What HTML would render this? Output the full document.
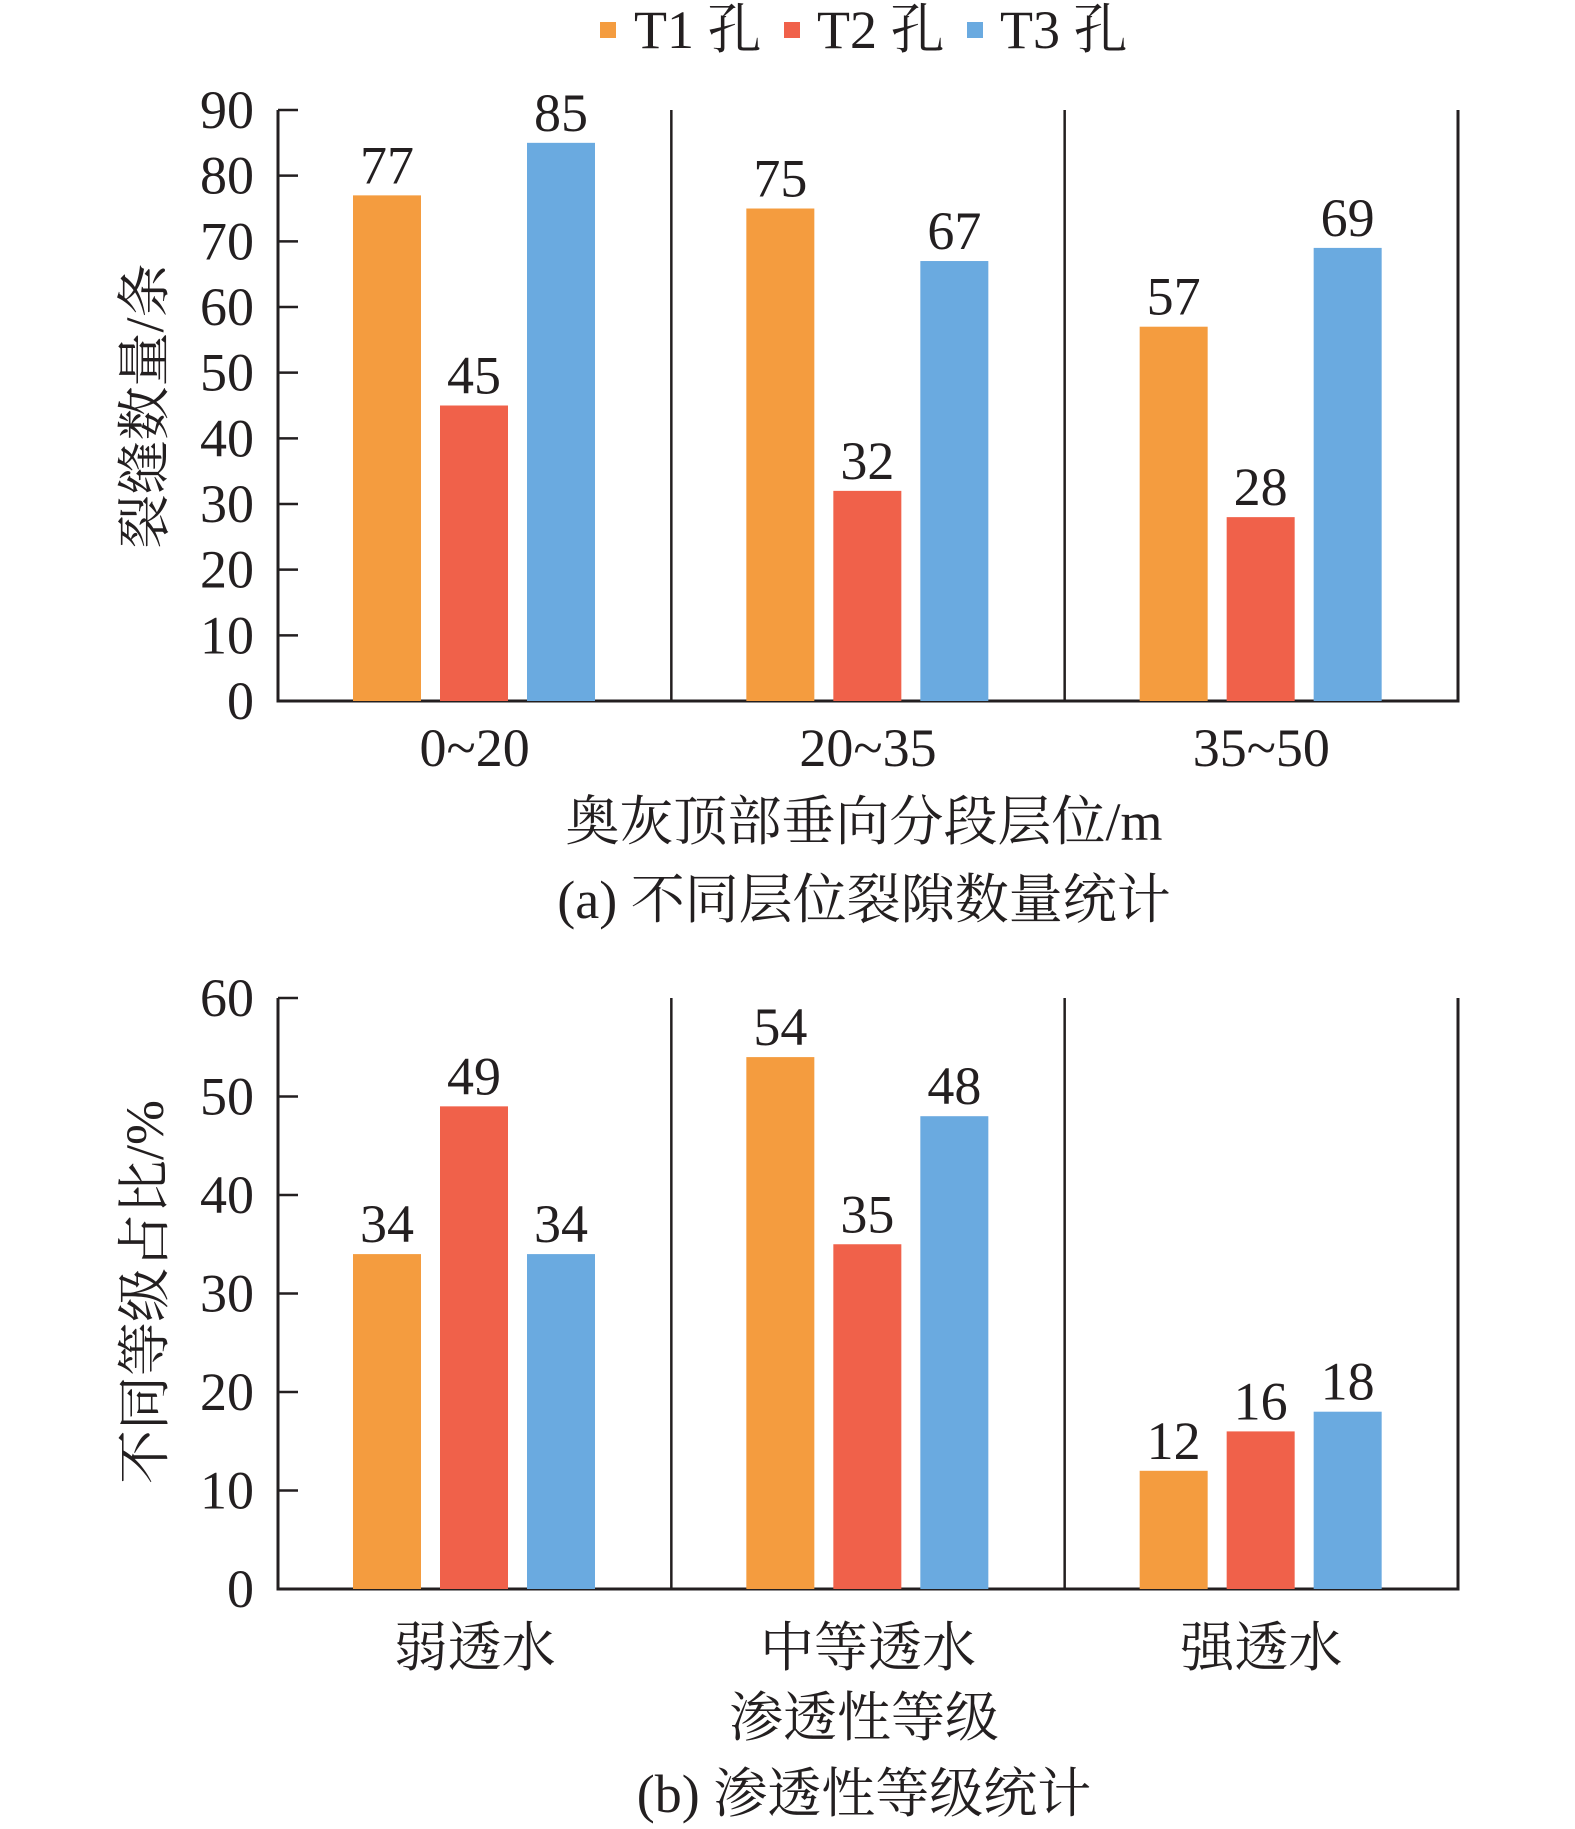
<!DOCTYPE html>
<html><head><meta charset="utf-8">
<style>
html,body{margin:0;padding:0;background:#fff;}
svg{display:block;}
text{font-family:"Liberation Serif","Noto Serif CJK SC",serif;fill:#231f20;}
</style></head>
<body>
<svg id="chart" width="1575" height="1829" viewBox="0 0 1575 1829" xmlns="http://www.w3.org/2000/svg">
<g>
  <rect x="600" y="22" width="16" height="16" fill="#f49c3f"/>
  <text x="634" y="30" font-size="54" dominant-baseline="central">T1 孔</text>
  <rect x="784" y="22" width="16" height="16" fill="#f0614a"/>
  <text x="817" y="30" font-size="54" dominant-baseline="central">T2 孔</text>
  <rect x="967" y="22" width="16" height="16" fill="#6aaae0"/>
  <text x="1000" y="30" font-size="54" dominant-baseline="central">T3 孔</text>
</g>
<g id="p1"></g>
<g id="p2"></g>
</svg>
<script>
const catsA = ["0~20","20~35","35~50"];
const t1A = [77,75,57];
const t2A = [45,32,28];
const t3A = [85,67,69];
const ticksA = [0,10,20,30,40,50,60,70,80,90];

const catsB = ["弱透水","中等透水","强透水"];
const t1B = [34,54,12];
const t2B = [49,35,16];
const t3B = [34,48,18];
const ticksB = [0,10,20,30,40,50,60];

const NS="http://www.w3.org/2000/svg";
const colors=["#f49c3f","#f0614a","#6aaae0"];
const FS=54;
function mk(parent,tag,attrs,txt){const e=document.createElementNS(NS,tag);for(const k in attrs)e.setAttribute(k,attrs[k]);if(txt!==undefined)e.textContent=txt;parent.appendChild(e);return e;}

function drawChart(g,cfg){
  const x0=278,x1=1458,top=cfg.top,base=cfg.base,max=cfg.ticks[cfg.ticks.length-1];
  const y=v=>base-(v/max)*(base-top);
  const gw=(x1-x0)/cfg.cats.length;
  const axis=mk(g,"path",{d:`M${x0},${top} V${base} H${x1} V${top}`,fill:"none",stroke:"#231f20","stroke-width":3});
  
  
  for(let i=1;i<cfg.cats.length;i++){
    const d=mk(g,"line",{x1:x0+gw*i,x2:x0+gw*i,y1:top,y2:base,stroke:"#231f20","stroke-width":2.5});
    
    
  }
  cfg.ticks.forEach(t=>{
    const l=mk(g,"line",{x1:x0,x2:x0+20,y1:y(t),y2:y(t),stroke:"#231f20","stroke-width":2.5});
    
    
    const tx=mk(g,"text",{x:254,y:y(t),"font-size":FS,"text-anchor":"end","dominant-baseline":"central"},String(t));
    
    
  });
  const series=[cfg.s1,cfg.s2,cfg.s3];
  cfg.cats.forEach((c,i)=>{
    const gx=x0+gw*i;
    series.forEach((s,j)=>{
      const bx=gx+75+j*87, bw=68;
      const r=mk(g,"rect",{x:bx,y:y(s[i]),width:bw,height:base-y(s[i]),fill:colors[j]});
      
      
      const v=mk(g,"text",{x:bx+bw/2,y:y(s[i])-12,"font-size":FS,"text-anchor":"middle"},String(s[i]));
      
      
    });
    const cl=mk(g,"text",{x:gx+gw/2,y:cfg.catY,"font-size":FS,"text-anchor":"middle","dominant-baseline":"central"},c);
    
    
  });
  const xt=mk(g,"text",{x:864,y:cfg.titleY,"font-size":FS,"text-anchor":"middle","dominant-baseline":"central"},cfg.xTitle);
  
  
  const cap=mk(g,"text",{x:864,y:cfg.capY,"font-size":FS,"text-anchor":"middle","dominant-baseline":"central"},cfg.caption);
  
  
  const yt=mk(g,"text",{x:145,y:cfg.yTitleY,"font-size":FS,"text-anchor":"middle","dominant-baseline":"central",transform:`rotate(-90 145 ${cfg.yTitleY})`},cfg.yTitle);
  
  
}
drawChart(document.getElementById("p1"),{top:110,base:701,ticks:ticksA,cats:catsA,s1:t1A,s2:t2A,s3:t3A,catY:748,titleY:822,capY:900,xTitle:"奥灰顶部垂向分段层位/m",caption:"(a) 不同层位裂隙数量统计",yTitle:"裂缝数量/条",yTitleY:406});
drawChart(document.getElementById("p2"),{top:998,base:1589,ticks:ticksB,cats:catsB,s1:t1B,s2:t2B,s3:t3B,catY:1648,titleY:1718,capY:1794,xTitle:"渗透性等级",caption:"(b) 渗透性等级统计",yTitle:"不同等级占比/%",yTitleY:1292});
</script>
</body></html>
